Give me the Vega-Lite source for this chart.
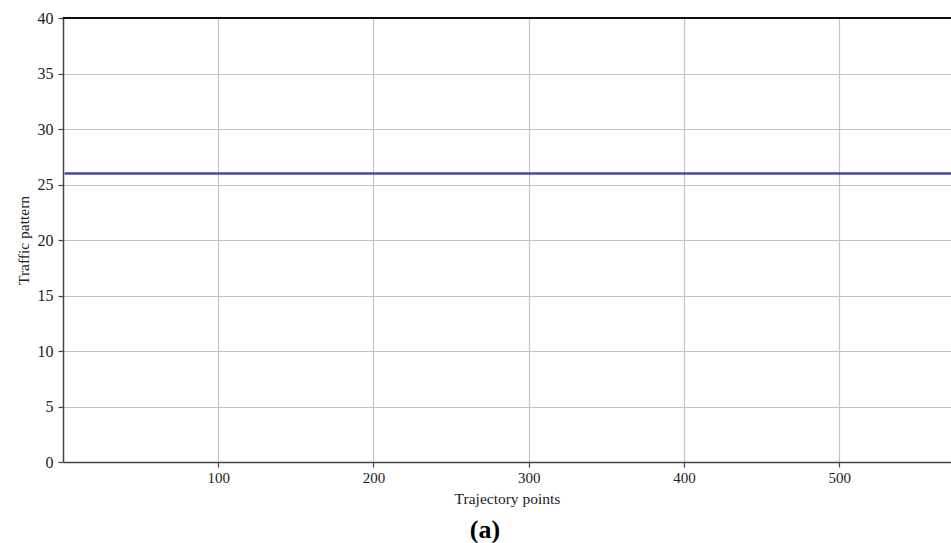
{
  "$schema": "https://vega.github.io/schema/vega-lite/v6.json",
  "width": 888,
  "height": 444,
  "autosize": {"type": "none"},
  "padding": {"left": 63, "top": 18, "right": 0, "bottom": 81},
  "background": "white",
  "title": {"text": "(a)", "orient": "bottom", "anchor": "middle", "font": "Liberation Serif", "fontSize": 26, "fontWeight": "bold", "color": "#000", "dx": -22, "offset": 10},
  "config": {
    "view": {"stroke": null},
    "axis": {"labelFont": "Liberation Serif", "titleFont": "Liberation Serif", "labelFontSize": 15, "titleFontSize": 15.5, "titleFontWeight": "normal", "labelColor": "#222", "titleColor": "#222", "domainColor": "#444", "domainWidth": 1.5, "tickColor": "#444", "tickWidth": 1.2, "tickSize": 5, "gridColor": "#c4c4c4", "gridWidth": 1.2, "gridOpacity": 1}
  },
  "data": {"values": [
    {"point": 1, "pattern": 26},
    {"point": 100, "pattern": 26},
    {"point": 200, "pattern": 26},
    {"point": 300, "pattern": 26},
    {"point": 400, "pattern": 26},
    {"point": 500, "pattern": 26},
    {"point": 572, "pattern": 26}
  ]},
  "layer": [
    {
      "mark": {"type": "line", "color": "#48499c", "strokeWidth": 2.5, "clip": true},
      "encoding": {
        "x": {"field": "point", "type": "quantitative", "title": "Trajectory points", "scale": {"domain": [0, 572], "nice": false, "zero": false}, "axis": {"values": [100, 200, 300, 400, 500], "labelPadding": 3, "titlePadding": 6}},
        "y": {"field": "pattern", "type": "quantitative", "title": "Traffic pattern", "scale": {"domain": [0, 40], "nice": false}, "axis": {"values": [0, 5, 10, 15, 20, 25, 30, 35, 40], "labelFontSize": 16, "labelPadding": 5, "titlePadding": 6}}
      }
    },
    {
      "mark": {"type": "rule", "color": "#111", "strokeWidth": 1.5},
      "encoding": {"y": {"datum": 40}}
    }
  ]
}
